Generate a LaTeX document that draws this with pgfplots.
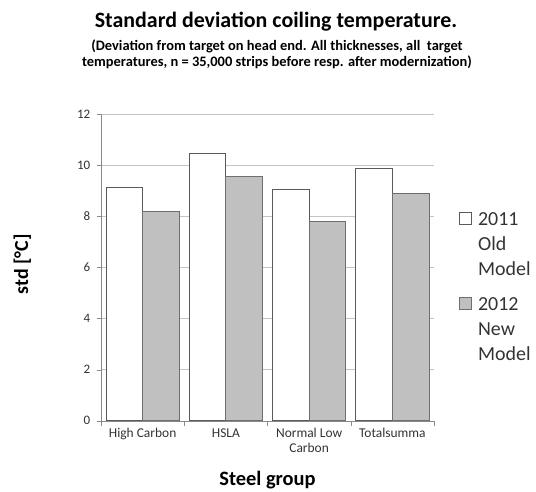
\documentclass[border=0pt]{standalone}
\usepackage{pgfplots}
\pgfplotsset{compat=1.18}
\usepackage{fontspec}
\setmainfont{Carlito}
\definecolor{barold}{HTML}{FFFFFF}
\definecolor{barnew}{HTML}{C0C0C0}
\definecolor{edgeold}{HTML}{5A5A5A}
\definecolor{edgenew}{HTML}{6E6E6E}
\definecolor{axisgray}{HTML}{8A8A8A}
\definecolor{gridgray}{HTML}{C4C4C4}
\definecolor{ticktext}{HTML}{333333}

% one unit = one pixel of the 536x492 reference
\begin{document}
\begin{tikzpicture}[x=1bp,y=1bp]
\path (0,0) rectangle (536,-492);

\begin{axis}[
  at={(101bp,-420.7bp)}, anchor=south west,
  scale only axis, width=333bp, height=306.4bp,
  xmin=-0.5, xmax=3.5, ymin=0, ymax=12,
  axis lines*=left,
  axis line style={draw=axisgray},
  tick align=outside,
  xtick={0,1,2,3},
  xticklabels={High Carbon,HSLA,Normal Low\\Carbon,Totalsumma},
  minor xtick={-0.5,0.5,1.5,2.5,3.5},
  major x tick style={draw=none},
  minor x tick style={draw=axisgray},
  minor tick length=5bp,
  ytick={0,2,...,12},
  major y tick style={draw=axisgray},
  major tick length=4.3bp,
  ymajorgrids,
  grid style={draw=gridgray},
  /pgf/number format/assume math mode=true,
  xticklabel style={align=center, font=\fontsize{13.5}{15}\selectfont, text=ticktext},
  yticklabel style={font=\fontsize{13}{14}\selectfont, text=ticktext, xshift=-3bp},
  xlabel={Steel group},
  every axis x label/.style={at={(axis description cs:0.5,0)}, anchor=base,
    yshift=-64.3bp, font=\fontsize{20.5}{24}\selectfont\bfseries},
  ylabel={std [°C]},
  every axis y label/.style={at={(axis description cs:-0.219,0.51)}, rotate=90, anchor=base,
    font=\fontsize{20}{24}\selectfont\bfseries},
  legend style={draw=none, fill=none, at={(axis description cs:1.075,0.682)},
    anchor=north west, inner sep=0pt, row sep=20bp, column sep=6bp,
    font=\fontsize{20}{25}\selectfont,
    cells={anchor=north west, align=left},
    nodes={inner sep=0pt, text=ticktext}},
]
\addplot[ybar, bar width=0.44, bar shift=-0.22, fill=barold, draw=edgeold, line width=0.9bp,
  legend image code/.code={\draw[fill=barold, draw=edgeold, line width=0.9bp] (0bp,-12bp) rectangle (12bp,0bp);}]
  coordinates {(0,9.14) (1,10.46) (2,9.05) (3,9.89)};
\addplot[ybar, bar width=0.44, bar shift=0.22, fill=barnew, draw=edgenew, line width=0.9bp,
  legend image code/.code={\draw[fill=barnew, draw=edgenew, line width=0.9bp] (0bp,-12bp) rectangle (12bp,0bp);}]
  coordinates {(0,8.19) (1,9.55) (2,7.79) (3,8.91)};
\addlegendentry{2011\\Old\\Model}
\addlegendentry{2012\\New\\Model}
\end{axis}

\node[anchor=base, font=\fontsize{22}{26}\selectfont\bfseries] at (276,-27.7)
  {Standard deviation coiling temperature.};
% the base anchor of a two-line node is the baseline of its last line
\node[anchor=base, align=center, font=\fontsize{14.5}{16.7}\selectfont\bfseries] at (277,-66.7)
  {(Deviation from target on head end. All thicknesses, all\ \ target\\
   temperatures, n = 35,000 strips before resp. after modernization)};
\end{tikzpicture}
\end{document}
